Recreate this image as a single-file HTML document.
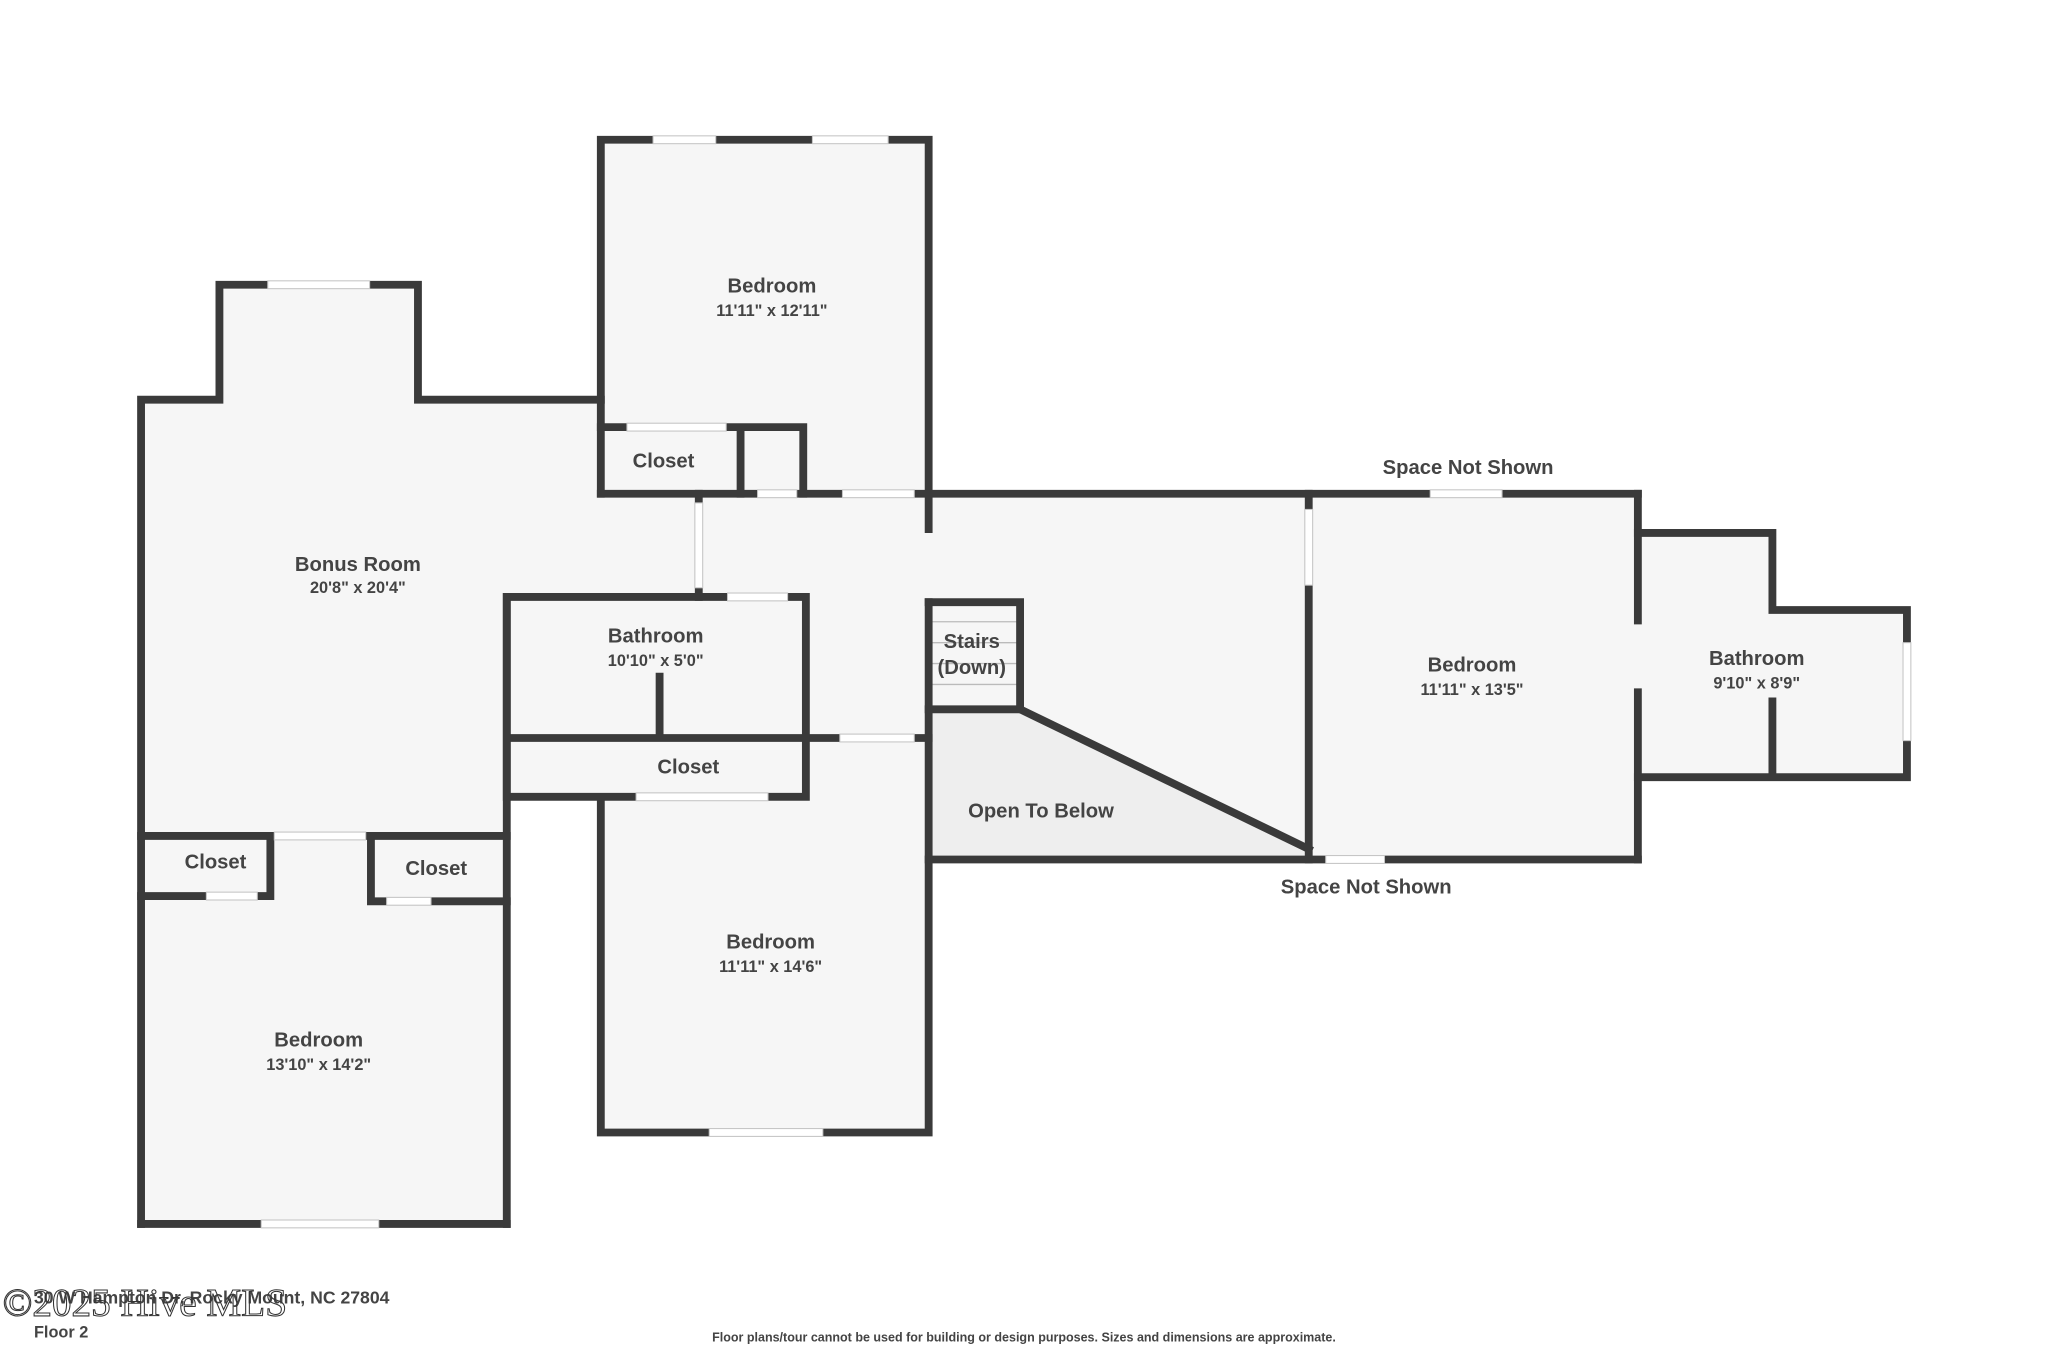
<!DOCTYPE html>
<html><head><meta charset="utf-8"><style>
html,body{margin:0;padding:0;background:#fff;}
svg{display:block;}
text{font-family:"Liberation Sans",sans-serif;fill:#444;text-anchor:middle;font-weight:bold;}
.n{font-size:15.5px;}
.d{font-size:12.5px;}
</style></head><body>
<svg width="2048" height="1365" viewBox="0 0 1568 1045" preserveAspectRatio="none" xmlns="http://www.w3.org/2000/svg">
<rect width="1568" height="1045" fill="#fff"/>
<g fill="#f6f6f6">
<rect x="460" y="107" width="251" height="271"/>
<polygon points="108,306 168,306 168,218 320,218 320,306 460,306 460,378 535,378 535,457 388,457 388,640 108,640"/>
<rect x="535" y="378" width="467" height="187"/>
<rect x="711" y="378" width="291" height="280"/>
<rect x="460" y="565" width="251" height="302"/>
<rect x="388" y="457" width="229" height="153"/>
<rect x="1002" y="378" width="252" height="280"/>
<polygon points="1254,408 1357,408 1357,467 1460,467 1460,595 1254,595"/>
<rect x="108" y="640" width="280" height="297"/>
</g>
<polygon points="711,543 781,543 1002,648 1002,658 711,658" fill="#eeeeee"/>
<g stroke="#bbb" stroke-width="1">
<line x1="711" y1="476" x2="781" y2="476"/><line x1="711" y1="492" x2="781" y2="492"/>
<line x1="711" y1="508" x2="781" y2="508"/><line x1="711" y1="524" x2="781" y2="524"/>
</g>
<g fill="none" stroke="#3a3a3a" stroke-width="6" stroke-linecap="square" stroke-linejoin="miter">
<path d="M460,378 V107 H711 V405"/>
<path d="M108,937 V306 H168 V218 H320 V306 H460"/>
<path d="M460,327 H615 V378 M567,327 V378"/>
<path d="M460,378 H1254"/>
<path d="M535,378 V457"/>
<path d="M388,457 H617 V610 H388 Z M388,565 H711 M505,518 V565"/>
<path d="M388,457 V937"/>
<path d="M460,613 V867 H711 V461"/>
<path d="M711,461 H781 V543 H711"/>
<path d="M781,543 L1002,650"/>
<path d="M711,658 H1254"/>
<path d="M1002,378 V658 M1254,378 V475 M1254,530 V658"/>
<path d="M1254,408 H1357 V467 H1460 V595 H1254 M1357,537 V595"/>
<path d="M108,640 H388 M207,640 V686 H108 M284,640 V690 H388 M108,937 H388"/>
</g>
<g fill="#fff" stroke="#c4c4c4" stroke-width="0.8">
<rect x="500" y="104" width="48" height="6"/><rect x="622" y="104" width="58" height="6"/>
<rect x="205" y="215" width="78" height="6"/>
<rect x="480" y="324" width="76" height="6"/>
<rect x="580" y="375" width="30" height="6"/><rect x="645" y="375" width="55" height="6"/>
<rect x="532" y="385" width="6" height="65"/>
<rect x="557" y="454" width="46" height="6"/>
<rect x="643" y="562" width="57" height="6"/>
<rect x="487" y="607" width="101" height="6"/>
<rect x="543" y="864" width="87" height="6"/>
<rect x="1095" y="375" width="55" height="6"/>
<rect x="999" y="390" width="6" height="58"/>
<rect x="1015" y="655" width="45" height="6"/>
<rect x="1457" y="492" width="6" height="75"/>
<rect x="210" y="637" width="70" height="6"/>
<rect x="158" y="683" width="39" height="6"/>
<rect x="296" y="687" width="34" height="6"/>
<rect x="200" y="934" width="90" height="6"/>
</g>
<text class="n" x="591" y="224">Bedroom</text><text class="d" x="591" y="242">11'11" x 12'11"</text>
<text class="n" x="274" y="437">Bonus Room</text><text class="d" x="274" y="454">20'8" x 20'4"</text>
<text class="n" x="508" y="358">Closet</text>
<text class="n" x="502" y="492">Bathroom</text><text class="d" x="502" y="510">10'10" x 5'0"</text>
<text class="n" x="527" y="592">Closet</text>
<text class="n" x="744" y="496">Stairs</text><text class="n" x="744" y="516">(Down)</text>
<text class="n" x="797" y="626">Open To Below</text>
<text class="n" x="1124" y="363">Space Not Shown</text>
<text class="n" x="1046" y="684">Space Not Shown</text>
<text class="n" x="1127" y="514">Bedroom</text><text class="d" x="1127" y="532">11'11" x 13'5"</text>
<text class="n" x="1345" y="509">Bathroom</text><text class="d" x="1345" y="527">9'10" x 8'9"</text>
<text class="n" x="165" y="665">Closet</text>
<text class="n" x="334" y="670">Closet</text>
<text class="n" x="244" y="801">Bedroom</text><text class="d" x="244" y="819">13'10" x 14'2"</text>
<text class="n" x="590" y="726">Bedroom</text><text class="d" x="590" y="744">11'11" x 14'6"</text>
<text x="26" y="998" style="font-size:13.5px;text-anchor:start">30 W Hampton Dr, Rocky Mount, NC 27804</text>
<text x="26" y="1024" style="font-size:12.5px;text-anchor:start">Floor 2</text>
<text x="2" y="1007" style="font-family:'Liberation Serif',serif;font-weight:normal;font-size:30px;text-anchor:start;fill:none;stroke:#333;stroke-width:0.8">©2025 Hive MLS</text>
<text x="784" y="1027" style="font-size:9.6px">Floor plans/tour cannot be used for building or design purposes. Sizes and dimensions are approximate.</text>
</svg>
</body></html>
